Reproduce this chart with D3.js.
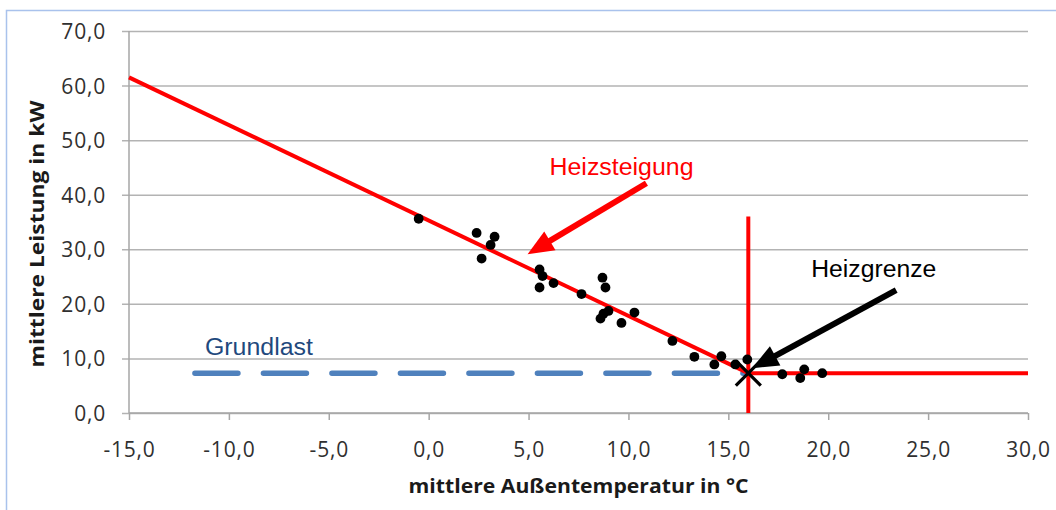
<!DOCTYPE html>
<html><head><meta charset="utf-8">
<script src="https://cdn.jsdelivr.net/npm/d3@7/dist/d3.min.js"></script>
<style>html,body{margin:0;padding:0;background:#fff;}svg{display:block;}</style>
</head><body>
<svg id="c" width="1056" height="510"></svg>
<script>
// ---- data ----
const xTicks = [-15, -10, -5, 0, 5, 10, 15, 20, 25, 30];
const yTicks = [0, 10, 20, 30, 40, 50, 60, 70];
const pointsX = [-0.5, 2.4, 3.3, 3.1, 2.65, 5.55, 5.7, 5.55, 6.25, 7.65, 8.7, 8.85, 9.0, 8.75, 8.6, 9.65, 10.3, 12.2, 13.3, 14.3, 14.65, 15.35, 15.95, 17.7, 18.8, 18.6, 19.7];
const pointsY = [35.6, 33.0, 32.3, 30.8, 28.3, 26.3, 25.1, 23.0, 23.8, 21.8, 24.8, 23.0, 18.7, 18.2, 17.3, 16.5, 18.4, 13.2, 10.3, 8.9, 10.4, 8.9, 9.8, 7.1, 8.0, 6.4, 7.3];
const heizLineX = [-15, 16.0];
const heizLineY = [61.5, 7.3];
const grenzVertX = [16.0, 16.0];
const grenzVertY = [0, 36];
const grenzHorizX = [16.0, 30];
const grenzHorizY = [7.3, 7.3];
const grundlastX = [-11.7, 16.0];
const grundlastY = [7.3, 7.3];
const crossPoint = [16.0, 7.3];
const labels = [
  {text: "Heizsteigung", x: 6.05, y: 43.6, color: "#ff0000", len: 144},
  {text: "Heizgrenze", x: 19.15, y: 24.9, color: "#000000", len: 125},
  {text: "Grundlast", x: -11.2, y: 10.6, color: "#1f497d", len: 108}
];
const arrows = [
  {x1: 10.9, y1: 42.1, x2: 4.95, y2: 29.1, color: "#ff0000"},
  {x1: 23.4, y1: 22.5, x2: 16.2, y2: 8.2, color: "#000000"}
];
const xTitle = "mittlere Außentemperatur in °C";
const yTitle = "mittlere Leistung in kW";

// ---- drawing ----
const svg = d3.select("#c");
const x = d3.scaleLinear().domain([-15, 30]).range([129, 1028]);
const y = d3.scaleLinear().domain([0, 70]).range([413, 31]);
const fmt = v => v.toFixed(1).replace(".", ",");

// outer border
svg.append("path").attr("d", "M6.5,510 V10.5 H1056")
  .attr("fill", "none").attr("stroke", "#a9c2ec").attr("stroke-width", 1.5);

// gridlines + y axis
const yAxis = d3.axisLeft(y).tickValues(yTicks).tickSize(-(1028 - 122)).tickPadding(0).tickFormat(fmt);
const gy = svg.append("g").attr("transform", "translate(122,0)").call(yAxis);
gy.select(".domain").remove();
gy.selectAll(".tick line").attr("x1", 0).attr("x2", 1028 - 122)
  .attr("stroke", "#b3b3b3").attr("stroke-width", 1.5);
gy.selectAll(".tick text").attr("x", -16).attr("dy", "0.36em")
  .attr("font-family", "Open Sans").attr("font-size", 21).attr("letter-spacing", 0.8)
  .attr("fill", "#303030");

// y axis line
svg.append("line").attr("x1", x(-15)).attr("x2", x(-15)).attr("y1", y(70)).attr("y2", y(0))
  .attr("stroke", "#a6a6a6").attr("stroke-width", 1.5);

// x axis
const xAxis = d3.axisBottom(x).tickValues(xTicks).tickSize(7).tickPadding(0).tickFormat(fmt);
const gx = svg.append("g").attr("transform", `translate(0,${y(0)})`).call(xAxis);
gx.select(".domain").attr("stroke", "#a6a6a6").attr("stroke-width", 1.5)
  .attr("d", `M${x(-15)},0H${x(30)}`);
gx.selectAll(".tick line").attr("stroke", "#a6a6a6").attr("stroke-width", 1.5);
gx.selectAll(".tick text").attr("y", 44).attr("dy", 0)
  .attr("font-family", "Open Sans").attr("font-size", 21).attr("letter-spacing", 0.8)
  .attr("fill", "#303030");

// axis titles
svg.append("text").attr("x", x(7.5)).attr("y", 493).attr("text-anchor", "middle")
  .attr("font-family", "Open Sans").attr("font-weight", "bold").attr("font-size", 19)
  .attr("fill", "#1a1a1a").attr("textLength", 340).attr("lengthAdjust", "spacingAndGlyphs")
  .text(xTitle);
svg.append("text").attr("transform", "translate(44,234) rotate(-90)").attr("text-anchor", "middle")
  .attr("font-family", "Open Sans").attr("font-weight", "bold").attr("font-size", 19)
  .attr("fill", "#1a1a1a").attr("textLength", 267).attr("lengthAdjust", "spacingAndGlyphs")
  .text(yTitle);

const line = d3.line().x(d => x(d[0])).y(d => y(d[1]));
const zip = (a, b) => a.map((v, i) => [v, b[i]]);

// blue dashed base load
svg.append("path").attr("d", line(zip(grundlastX, grundlastY)))
  .attr("fill", "none").attr("stroke", "#4f81bd").attr("stroke-width", 5.5)
  .attr("stroke-dasharray", "43,25.5").attr("stroke-linecap", "round");

// red lines
[[heizLineX, heizLineY], [grenzVertX, grenzVertY], [grenzHorizX, grenzHorizY]].forEach(([a, b]) => {
  svg.append("path").attr("d", line(zip(a, b)))
    .attr("fill", "none").attr("stroke", "#ff0000").attr("stroke-width", 4);
});

// points
svg.append("g").selectAll("circle").data(zip(pointsX, pointsY)).join("circle")
  .attr("cx", d => x(d[0])).attr("cy", d => y(d[1])).attr("r", 4.9).attr("fill", "#000");

// cross
const cx = x(crossPoint[0]), cy = y(crossPoint[1]), cs = 12.5;
svg.append("path").attr("d", `M${cx - cs},${cy - cs}L${cx + cs},${cy + cs}M${cx - cs},${cy + cs}L${cx + cs},${cy - cs}`)
  .attr("stroke", "#000").attr("stroke-width", 3.2);

// arrows
arrows.forEach(a => {
  const x1 = x(a.x1), y1 = y(a.y1), x2 = x(a.x2), y2 = y(a.y2);
  const dx = x2 - x1, dy = y2 - y1, L = Math.hypot(dx, dy);
  const ux = dx / L, uy = dy / L, hl = 26, hw = 11;
  const bx = x2 - ux * hl, by = y2 - uy * hl;
  svg.append("line").attr("x1", x1).attr("y1", y1).attr("x2", bx + ux * 2).attr("y2", by + uy * 2)
    .attr("stroke", a.color).attr("stroke-width", 6);
  svg.append("path").attr("d", `M${x2},${y2}L${bx - uy * hw},${by + ux * hw}L${bx + uy * hw},${by - ux * hw}Z`)
    .attr("fill", a.color);
});

// labels
labels.forEach(l => {
  svg.append("text").attr("x", x(l.x)).attr("y", y(l.y))
    .attr("font-family", "Liberation Sans, Arial, sans-serif").attr("font-size", 23.5)
    .attr("fill", l.color).attr("textLength", l.len).attr("lengthAdjust", "spacingAndGlyphs")
    .text(l.text);
});
</script>
</body></html>
